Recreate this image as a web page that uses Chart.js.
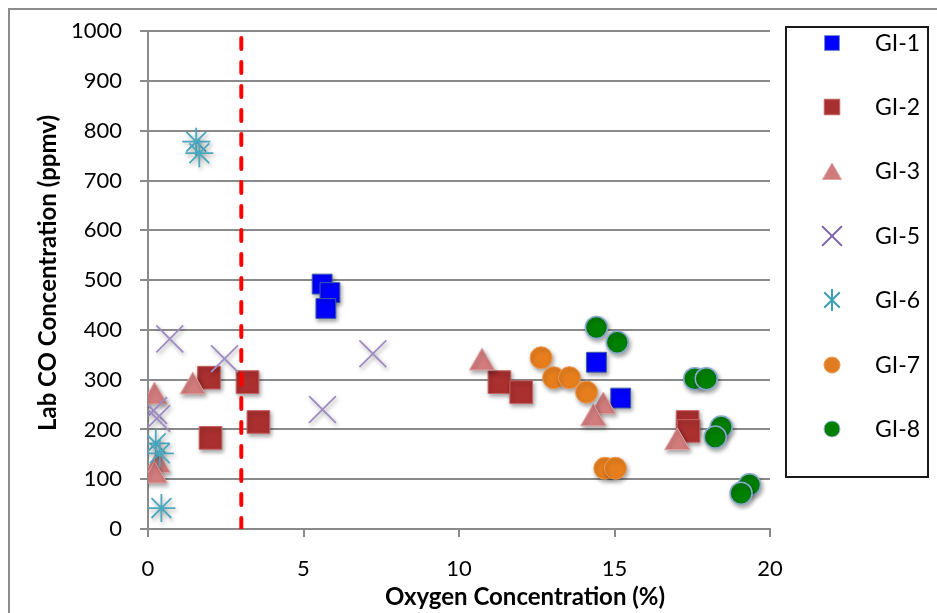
<!DOCTYPE html>
<html>
<head>
<meta charset="utf-8">
<script src="https://cdn.jsdelivr.net/npm/chart.js@4/dist/chart.umd.min.js"></script>
<style>
  html, body { margin: 0; padding: 0; background: #fff; }
  #wrap { width: 937px; height: 613px; position: relative; }
</style>
</head>
<body>
<div id="wrap"><canvas id="c" width="937" height="613"></canvas></div>
<script>
// Oxygen (%) vs lab CO (ppmv) per sampling location
const seriesNames = ['GI-1', 'GI-2', 'GI-3', 'GI-5', 'GI-6', 'GI-7', 'GI-8'];

const gi1O2 = [5.60, 5.85, 5.72, 14.42, 15.20];
const gi1CO = [492, 475, 443, 335, 263];

const gi2O2 = [1.96, 3.20, 3.55, 2.01, 11.30, 12.00, 17.35, 17.38];
const gi2CO = [304, 295, 215, 183, 295, 275, 215, 197];

const gi3O2 = [0.21, 1.44, 0.31, 0.21, 10.74, 14.64, 14.32, 17.02];
const gi3CO = [266, 286, 128, 107, 334, 246, 222, 174];

const gi5O2 = [0.70, 2.46, 0.18, 0.28, 7.23, 5.61];
const gi5CO = [382, 342, 238, 222, 352, 240];

const gi6O2 = [1.55, 1.65, 0.25, 0.38, 0.43];
const gi6CO = [778, 755, 172, 152, 42];

const gi7O2 = [12.64, 13.04, 13.55, 14.10, 14.69, 15.03];
const gi7CO = [344, 304, 304, 275, 122, 122];

const gi8O2 = [14.42, 15.09, 17.58, 17.95, 18.43, 18.24, 19.34, 19.07];
const gi8CO = [405, 375, 302, 302, 205, 185, 89, 72];

// Oxygen threshold marked by the dashed line
const thresholdO2 = [3, 3];
const thresholdCO = [0, 1000];

const xTicks = [0, 5, 10, 15, 20];
const yTicks = [0, 100, 200, 300, 400, 500, 600, 700, 800, 900, 1000];

const FONT = 'Lato, "Open Sans", sans-serif';

function pts(xs, ys) { return xs.map((x, i) => ({ x: x, y: ys[i] })); }

const styles = [
  { pointStyle: 'rect',     radius: 14, fill: '#0000ff', border: '#3a5ea8', bw: 1,   lr: 10.5, lfill: '#0000ff', lborder: '#6d8cc6' },
  { pointStyle: 'rect',     radius: 16, fill: '#aa2f2f', border: '#c66262', bw: 1,   lr: 11,   lfill: '#a83030', lborder: '#c66262' },
  { pointStyle: 'triangle', radius: 14.5, fill: '#d27c7d', border: '#e2a3a3', bw: 1, lr: 11,   lfill: '#d07b7c', lborder: '#e2a3a3' },
  { pointStyle: 'crossRot', radius: 19, fill: 'rgba(0,0,0,0)', border: '#a08cc4', bw: 1.8, lr: 14, lfill: 'rgba(0,0,0,0)', lborder: '#7a60a4' },
  { pointStyle: 'star',     radius: 14, fill: 'rgba(0,0,0,0)', border: '#4aa8bf', bw: 1.8, lr: 11, lfill: 'rgba(0,0,0,0)', lborder: '#3c9fb6' },
  { pointStyle: 'circle',   radius: 11, fill: '#e67e1e', border: '#ee9a52', bw: 1,   lr: 8,    lfill: '#e07c22', lborder: '#ee9a52' },
  { pointStyle: 'circle',   radius: 11, fill: '#008000', border: '#8aa9d2', bw: 1.5, lr: 8,    lfill: '#008000', lborder: '#9db5d8' }
];

const seriesData = [
  pts(gi1O2, gi1CO), pts(gi2O2, gi2CO), pts(gi3O2, gi3CO), pts(gi5O2, gi5CO),
  pts(gi6O2, gi6CO), pts(gi7O2, gi7CO), pts(gi8O2, gi8CO)
];

const datasets = seriesNames.map((name, i) => ({
  label: name,
  data: seriesData[i],
  pointStyle: styles[i].pointStyle,
  pointRadius: styles[i].radius,
  pointHoverRadius: styles[i].radius,
  backgroundColor: styles[i].fill,
  borderColor: styles[i].border,
  borderWidth: styles[i].bw,
  showLine: false,
  order: 10 - i          // later series drawn on top
}));

datasets.push({
  label: 'threshold',
  data: pts(thresholdO2, thresholdCO),
  showLine: true,
  pointRadius: 0,
  borderColor: '#ff0000',
  borderWidth: 4,
  borderDash: [11, 13],
  borderCapStyle: 'round',
  order: 0
});

// soft drop shadow under the markers
const shadowPlugin = {
  id: 'markerShadow',
  beforeDatasetDraw(chart, args) {
    const ds = chart.data.datasets[args.index];
    chart.ctx.save();
    if (ds.label !== 'threshold') {
      chart.ctx.shadowColor = 'rgba(0,0,0,0.35)';
      chart.ctx.shadowBlur = 4;
      chart.ctx.shadowOffsetX = 1.5;
      chart.ctx.shadowOffsetY = 2.5;
    }
  },
  afterDatasetDraw(chart) {
    chart.ctx.restore();
  }
};

// white page with grey outer frame
const framePlugin = {
  id: 'frame',
  beforeDraw(chart) {
    const ctx = chart.ctx;
    ctx.save();
    ctx.fillStyle = '#ffffff';
    ctx.fillRect(0, 0, chart.width, chart.height);
    ctx.strokeStyle = '#8c8c8c';
    ctx.lineWidth = 2;
    ctx.strokeRect(9, 9, 960, 640);
    ctx.restore();
  }
};

// axis titles
const titlePlugin = {
  id: 'axisTitles',
  afterDraw(chart) {
    const ctx = chart.ctx;
    ctx.save();
    ctx.fillStyle = '#000';
    ctx.font = 'bold 24px ' + FONT;
    ctx.textAlign = 'center';
    ctx.textBaseline = 'middle';
    ctx.fillText('Oxygen Concentration (%)', 525, 597);
    ctx.translate(48, 273);
    ctx.rotate(-Math.PI / 2);
    ctx.fillText('Lab CO Concentration (ppmv)', 0, 0);
    ctx.restore();
  }
};

function drawMarker(ctx, style, r, x, y, fill, stroke, bw) {
  ctx.save();
  ctx.fillStyle = fill;
  ctx.strokeStyle = stroke;
  ctx.lineWidth = bw;
  ctx.beginPath();
  if (style === 'rect') {
    const s = Math.SQRT1_2 * r;
    ctx.rect(x - s, y - s, 2 * s, 2 * s);
    ctx.fill(); ctx.stroke();
  } else if (style === 'triangle') {
    ctx.moveTo(x, y - r);
    ctx.lineTo(x + r * Math.sin(2 * Math.PI / 3), y - r * Math.cos(2 * Math.PI / 3));
    ctx.lineTo(x + r * Math.sin(4 * Math.PI / 3), y - r * Math.cos(4 * Math.PI / 3));
    ctx.closePath();
    ctx.fill(); ctx.stroke();
  } else if (style === 'crossRot') {
    const o = Math.SQRT1_2 * r;
    ctx.moveTo(x - o, y - o); ctx.lineTo(x + o, y + o);
    ctx.moveTo(x - o, y + o); ctx.lineTo(x + o, y - o);
    ctx.stroke();
  } else if (style === 'star') {
    const o = Math.SQRT1_2 * r;
    ctx.moveTo(x, y - r); ctx.lineTo(x, y + r);
    ctx.moveTo(x - o, y - o); ctx.lineTo(x + o, y + o);
    ctx.moveTo(x - o, y + o); ctx.lineTo(x + o, y - o);
    ctx.stroke();
  } else {
    ctx.arc(x, y, r, 0, Math.PI * 2);
    ctx.fill(); ctx.stroke();
  }
  ctx.restore();
}

// boxed legend on the right
const legendPlugin = {
  id: 'boxLegend',
  afterDraw(chart) {
    const ctx = chart.ctx;
    ctx.save();
    ctx.strokeStyle = '#1a1a1a';
    ctx.lineWidth = 2;
    ctx.strokeRect(786, 27, 142, 450);
    ctx.font = '23px ' + FONT;
    ctx.fillStyle = '#000';
    ctx.textAlign = 'left';
    ctx.textBaseline = 'middle';
    const rowY = [43, 107, 171, 236, 300, 365, 429];
    seriesNames.forEach((name, i) => {
      const st = styles[i];
      const my = st.pointStyle === 'triangle' ? rowY[i] + 3 : rowY[i];
      drawMarker(ctx, st.pointStyle, st.lr, 832, my, st.lfill, st.lborder, st.pointStyle === 'crossRot' || st.pointStyle === 'star' ? 2 : 1);
      ctx.fillStyle = '#000';
      ctx.fillText(name, 875, rowY[i] + 1);
    });
    ctx.restore();
  }
};

new Chart(document.getElementById('c'), {
  type: 'scatter',
  data: { datasets: datasets },
  plugins: [framePlugin, shadowPlugin, titlePlugin, legendPlugin],
  options: {
    responsive: false,
    devicePixelRatio: 1,
    animation: false,
    layout: { padding: { left: 9, top: 29, right: 167, bottom: 0 } },
    plugins: { legend: { display: false }, tooltip: { enabled: false } },
    scales: {
      x: {
        type: 'linear',
        min: 0, max: 20,
        afterBuildTicks(scale) { scale.ticks = xTicks.map(v => ({ value: v })); },
        afterFit(scale) { scale.height = 84; },
        ticks: { color: '#000', font: { family: FONT, size: 22 }, padding: 19, maxRotation: 0,
                 callback: v => String(v) },
        grid: { drawOnChartArea: false, drawTicks: true, tickLength: 8, color: '#8a8a8a', lineWidth: 2 },
        border: { display: true, color: '#8a8a8a', width: 2 }
      },
      y: {
        type: 'linear',
        min: 0, max: 1000,
        afterBuildTicks(scale) { scale.ticks = yTicks.map(v => ({ value: v })); },
        afterFit(scale) { scale.width = 139; },
        ticks: { color: '#000', font: { family: FONT, size: 22 }, padding: 18,
                 callback: v => String(v) },
        grid: { drawTicks: true, tickLength: 8, color: '#8a8a8a', lineWidth: 2 },
        border: { display: true, color: '#8a8a8a', width: 2 }
      }
    }
  }
});
</script>
</body>
</html>
